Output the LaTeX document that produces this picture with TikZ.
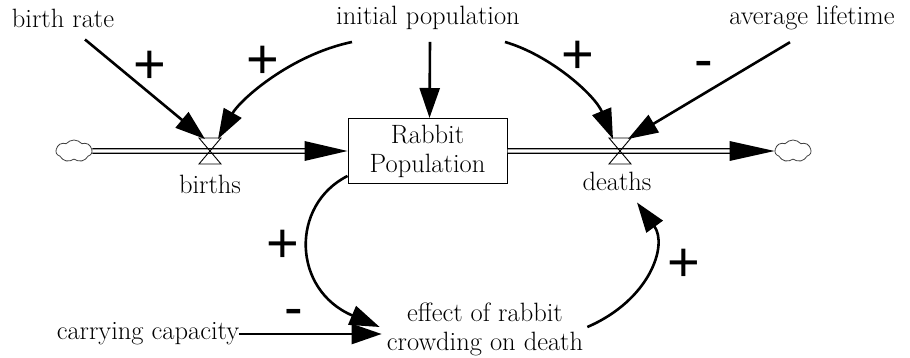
\documentclass[tikz,border=0pt]{standalone}
\usepackage{fontspec}
\newfontfamily\signfont{Liberation Sans}
\usetikzlibrary{arrows.meta}
\usetikzlibrary{shapes.symbols}

\begin{document}
\begin{tikzpicture}[x=1pt,y=-1pt,
  lbl/.style={font=\fontsize{26.5}{29}\selectfont, inner sep=0pt, align=center},
  sgn/.style={font=\signfont\fontsize{56}{56}\selectfont, inner sep=0pt},
  link/.style={line width=2.6pt, -{Triangle[length=30pt,width=20pt]}},
  pipe/.style={double distance=3.2pt, line width=1.2pt},
  valve/.style={line width=0.9pt, line join=miter},
  sky/.style={cloud, cloud puffs=7, cloud puff arc=100, cloud ignores aspect, draw=black!75, line width=0.8pt, minimum width=36pt, minimum height=22pt, inner sep=0pt}]
\useasboundingbox (0,0) rectangle (910,358);

\node[lbl] (br) at (63,18) {birth rate};
\node[lbl] (ip) at (428,18) {initial population};
\node[lbl] (al) at (812,18) {average lifetime};
\node[lbl, draw, line width=1pt, minimum width=159pt, minimum height=65pt] (rp) at (427.5,151) {Rabbit\\Population};
\node[sky] (cl) at (74,151) {};
\node[sky] (cr) at (793,151) {};
\coordinate (bv) at (210,151);
\coordinate (dv) at (620,151);
\node[lbl] (bl) at (210,184) {births};
\node[lbl] (dl) at (617,181) {deaths};
\node[lbl] (ef) at (485,329) {effect of rabbit\\crowding on death};
\node[lbl] (cc) at (148,334) {carrying capacity};

\draw[pipe] (cl.east) -- ([shift={(-40,0)}]rp.west);
\fill (rp.west) -- ++(-43,-10) -- ++(0,20) -- cycle;
\draw[pipe] (rp.east) -- ([shift={(-42,0)}]cr.west);
\fill (cr.west) -- ++(-45,-10) -- ++(0,20) -- cycle;
\draw[valve] (bv) -- ++(-11,-13) -- ++(22,0) -- cycle;
\draw[valve] (bv) -- ++(-11,13) -- ++(22,0) -- cycle;
\draw[valve] (dv) -- ++(-11,-13) -- ++(22,0) -- cycle;
\draw[valve] (dv) -- ++(-11,13) -- ++(22,0) -- cycle;

\draw[link] ([shift={(22,12)}]br.south) -- ([shift={(-5,-12)}]bv);
\draw[link] ([shift={(-76,12)}]ip.south) .. controls (290,55) and (240,100) .. ([shift={(8,-12)}]bv);
\draw[link] ([shift={(2,12)}]ip.south) -- ([shift={(2,0)}]rp.north);
\draw[link] ([shift={(77,12)}]ip.south) .. controls (550,55) and (595,95) .. ([shift={(-7,-12)}]dv);
\draw[link] ([shift={(-22,12)}]al.south) -- ([shift={(8,-12)}]dv);
\draw[link] ([shift={(0,-8)}]rp.south west) .. controls (290,205) and (292,290) .. ([shift={(-7,-2)}]ef.west);
\draw[link] (cc.east) -- ([shift={(-5,5)}]ef.west);
\draw[link] ([shift={(4,-2)}]ef.east) .. controls (650,300) and (668,245) .. ([shift={(20,12)}]dl.south);

\node[sgn] (s1) at (150,67) {+};
\node[sgn] (s2) at (263,62) {+};
\node[sgn] (s3) at (578,57) {+};
\node[sgn] (s4) at (704,70) {-};
\node[sgn] (s5) at (283,246) {+};
\node[sgn] (s6) at (294,318) {-};
\node[sgn] (s7) at (684,265) {+};
\end{tikzpicture}
\end{document}
